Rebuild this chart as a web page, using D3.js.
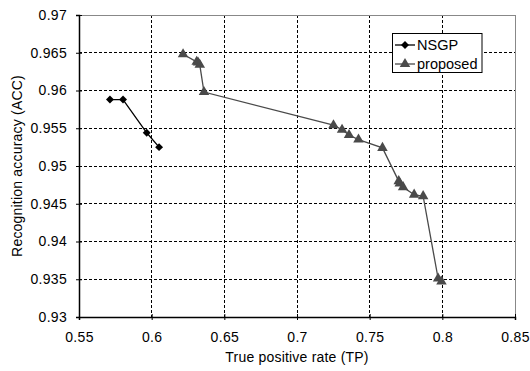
<!DOCTYPE html>
<html><head><meta charset="utf-8">
<script src="https://cdn.jsdelivr.net/npm/d3@7"></script>
<style>
body{margin:0;background:#fff;}
text{font-family:"Liberation Sans",Arial,sans-serif;}
</style></head>
<body><svg id="c" width="530" height="371"></svg>
<script>
const nsgpTP  = [0.5713, 0.5803, 0.5966, 0.6051];
const nsgpACC = [0.9588, 0.9588, 0.9544, 0.9525];
const propTP  = [0.6216, 0.6310, 0.6319, 0.6331, 0.6360, 0.7251, 0.7310, 0.7358, 0.7423, 0.7588, 0.7700, 0.7707, 0.7730, 0.7806, 0.7868, 0.7971, 0.7994];
const propACC = [0.9648, 0.9638, 0.9637, 0.9634, 0.9598, 0.9554, 0.9548, 0.9541, 0.9535, 0.9524, 0.9480, 0.9477, 0.9472, 0.9462, 0.9460, 0.9351, 0.9347];
const xTicks = [0.55, 0.6, 0.65, 0.7, 0.75, 0.8, 0.85];
const yTicks = [0.93, 0.935, 0.94, 0.945, 0.95, 0.955, 0.96, 0.965, 0.97];
const seriesNames = ["NSGP", "proposed"];

const svg = d3.select("#c");
const L = 79, R = 515, T = 15, B = 317;
const x = d3.scaleLinear().domain([0.55, 0.85]).range([L, R]);
const y = d3.scaleLinear().domain([0.93, 0.97]).range([B, T]);

// grid
svg.append("g").selectAll("line").data(xTicks.slice(1, -1)).join("line")
  .attr("x1", d => x(d)).attr("x2", d => x(d)).attr("y1", T).attr("y2", B)
  .attr("stroke", "#000").attr("stroke-width", 1).attr("stroke-dasharray", "3,2").attr("shape-rendering", "crispEdges");
svg.append("g").selectAll("line").data(yTicks.slice(1, -1)).join("line")
  .attr("y1", d => y(d)).attr("y2", d => y(d)).attr("x1", L).attr("x2", R)
  .attr("stroke", "#000").attr("stroke-width", 1).attr("stroke-dasharray", "3,2").attr("shape-rendering", "crispEdges");
// frame top/right
svg.append("path").attr("d", `M${L},${T}H${R}V${B}`).attr("fill", "none")
  .attr("stroke", "#888").attr("stroke-width", 1).attr("shape-rendering", "crispEdges");

const fmt = d => String(+d.toFixed(3));
const xAxis = svg.append("g").attr("transform", `translate(0,${B})`)
  .call(d3.axisBottom(x).tickValues(xTicks).tickFormat(fmt).tickSize(3).tickPadding(12));
const yAxis = svg.append("g").attr("transform", `translate(${L},0)`)
  .call(d3.axisLeft(y).tickValues(yTicks).tickFormat(fmt).tickSize(3).tickPadding(9));
[xAxis, yAxis].forEach(g => {
  g.select(".domain").attr("stroke", "#000").attr("stroke-width", 1.5);
  g.selectAll(".tick line").attr("stroke", "#000").attr("stroke-width", 1);
  g.selectAll("text").attr("font-size", 14).attr("fill", "#000")
    .attr("font-family", "'Liberation Sans',Arial,sans-serif").attr("letter-spacing", "0.3px");
});
xAxis.selectAll(".tick line").attr("y1", -3);
yAxis.selectAll(".tick line").attr("x1", 3).attr("x2", -3);

svg.append("text").attr("x", 297).attr("y", 362).attr("text-anchor", "middle")
  .attr("font-size", 14).attr("letter-spacing", "0.2px").text("True positive rate (TP)");
svg.append("text").attr("transform", "translate(22,166) rotate(-90)").attr("text-anchor", "middle")
  .attr("font-size", 14).attr("letter-spacing", "0.2px").text("Recognition accuracy (ACC)");

const line = d3.line().x(d => x(d[0])).y(d => y(d[1]));
const nsgp = nsgpTP.map((v, i) => [v, nsgpACC[i]]);
const prop = propTP.map((v, i) => [v, propACC[i]]);
const diamond = d3.symbol().type(d3.symbolDiamond2).size(40);
const tri = d3.symbol().type(d3.symbolTriangle).size(48);
const propColor = "#4a4a4a";

svg.append("path").datum(prop).attr("d", line).attr("fill", "none").attr("stroke", propColor).attr("stroke-width", 1.3);
svg.append("g").selectAll("path").data(prop).join("path")
  .attr("transform", d => `translate(${x(d[0])},${y(d[1])})`).attr("d", tri).attr("fill", propColor);
svg.append("path").datum(nsgp).attr("d", line).attr("fill", "none").attr("stroke", "#000").attr("stroke-width", 1.3);
svg.append("g").selectAll("path").data(nsgp).join("path")
  .attr("transform", d => `translate(${x(d[0])},${y(d[1])})`).attr("d", diamond).attr("fill", "#000");

// legend
const lg = svg.append("g");
lg.append("rect").attr("x", 392.5).attr("y", 33.5).attr("width", 89.5).attr("height", 39)
  .attr("fill", "#fff").attr("stroke", "#000").attr("stroke-width", 1);
const items = [{c: "#000", s: diamond, yy: 45}, {c: propColor, s: tri, yy: 64}];
items.forEach((it, i) => {
  lg.append("line").attr("x1", 395).attr("x2", 415).attr("y1", it.yy).attr("y2", it.yy)
    .attr("stroke", it.c).attr("stroke-width", 1.3);
  lg.append("path").attr("transform", `translate(405,${it.yy})`).attr("d", it.s).attr("fill", it.c);
  lg.append("text").attr("x", 417).attr("y", it.yy + 5).attr("font-size", 14.5).text(seriesNames[i]);
});
</script></body></html>
